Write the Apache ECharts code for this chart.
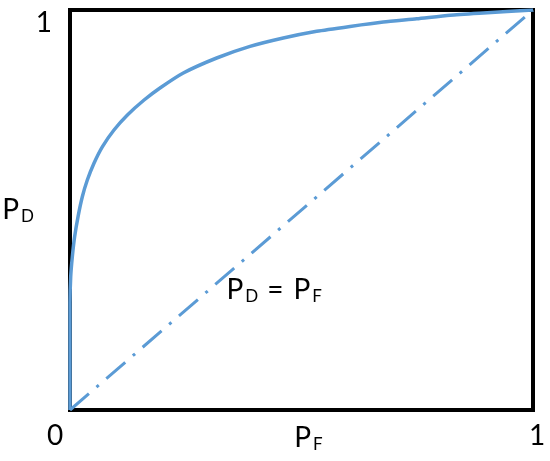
<!DOCTYPE html>
<html>
<head>
<meta charset="utf-8">
<script src="https://cdn.jsdelivr.net/npm/echarts@6/dist/echarts.min.js"></script>
<style>
html,body{margin:0;padding:0;background:#fff;}
#c{width:550px;height:461px;}
</style>
</head>
<body>
<div id="c"></div>
<script>
// ROC curve (P_F, P_D)
const pf = [0, 0, 0.0015, 0.005, 0.010, 0.0173, 0.0266, 0.0374, 0.0518, 0.0698, 0.095, 0.124, 0.160, 0.1944, 0.2447, 0.3168, 0.3888, 0.4607, 0.5328, 0.6048, 0.6767, 0.7488, 0.8207, 0.8927, 1];
const pd = [0, 0.2675, 0.333, 0.383, 0.433, 0.483, 0.533, 0.575, 0.617, 0.658, 0.700, 0.7375, 0.775, 0.805, 0.8425, 0.88, 0.909, 0.93, 0.9468, 0.959, 0.97, 0.978, 0.987, 0.9925, 1];
// chance line P_D = P_F
const diagX = [0, 1];
const diagY = [0, 1];
const xTicks = ['0', '1'];
const yTicks = ['', '1'];
const annotation = { x: 0.338, y: 0.29 };

const blue = '#5B9BD5';
const font = 'Lato, "Open Sans", sans-serif';
const chart = echarts.init(document.getElementById('c'), null, { renderer: 'canvas' });

const richPD = {
  p: { fontSize: 28, fontFamily: font, color: '#000' },
  s: { fontSize: 17, fontFamily: font, color: '#000', padding: [14, 0, 0, 2] },
  e: { fontSize: 28, fontFamily: font, color: '#000', padding: [0, 10, 0, 9] }
};

chart.setOption({
  animation: false,
  backgroundColor: '#fff',
  grid: {
    left: 70, right: 17, top: 10, bottom: 51,
    containLabel: false, outerBoundsMode: 'none',
    show: true, borderColor: '#000', borderWidth: 4, backgroundColor: 'transparent'
  },
  xAxis: {
    type: 'value', min: 0, max: 1, interval: 1,
    axisLine: { show: false }, axisTick: { show: false }, splitLine: { show: false },
    axisLabel: {
      margin: 12, fontSize: 28, fontFamily: font, color: '#000',
      formatter: v => (Math.round(v) === 0 ? '{a|' : '{b|') + xTicks[Math.round(v)] + '}',
      rich: {
        a: { fontSize: 28, fontFamily: font, color: '#000', padding: [0, 30, 0, 0] },
        b: { fontSize: 28, fontFamily: font, color: '#000', padding: [0, 0, 0, 8] }
      }
    },
    name: '{p|P}{s|F}',
    nameLocation: 'middle', nameGap: 12, nameMoveOverlap: false,
    nameTextStyle: { rich: richPD, verticalAlign: 'top', padding: [0, 0, 0, 14] }
  },
  yAxis: {
    type: 'value', min: 0, max: 1, interval: 1,
    axisLine: { show: false }, axisTick: { show: false }, splitLine: { show: false },
    axisLabel: {
      margin: 18, fontSize: 28, fontFamily: font, color: '#000',
      formatter: v => '{a|' + yTicks[Math.round(v)] + '}',
      rich: { a: { fontSize: 28, fontFamily: font, color: '#000', padding: [26, 0, 0, 0] } }
    },
    name: '{p|P}{s|D}',
    nameLocation: 'middle', nameGap: 36, nameRotate: 0, nameMoveOverlap: false,
    nameTextStyle: { rich: richPD, padding: [0, 0, 0, 12] }
  },
  series: [
    {
      type: 'line', data: pf.map((x, i) => [x, pd[i]]), smooth: 0.2, symbol: 'none',
      lineStyle: { color: blue, width: 3.5 }, z: 5
    },
    {
      type: 'line', data: diagX.map((x, i) => [x, diagY[i]]), symbol: 'none',
      lineStyle: { color: blue, width: 3, type: [25, 10, 3, 10] }, z: 4
    }
  ]
});

const pos = chart.convertToPixel({ gridIndex: 0 }, [annotation.x, annotation.y]);
chart.setOption({
  graphic: [{
    type: 'text', left: pos[0], top: pos[1] - 18, z: 10,
    style: {
      text: '{p|P}{s|D}{e|=}{p|P}{s|F}',
      rich: richPD
    }
  }]
});
</script>
</body>
</html>
